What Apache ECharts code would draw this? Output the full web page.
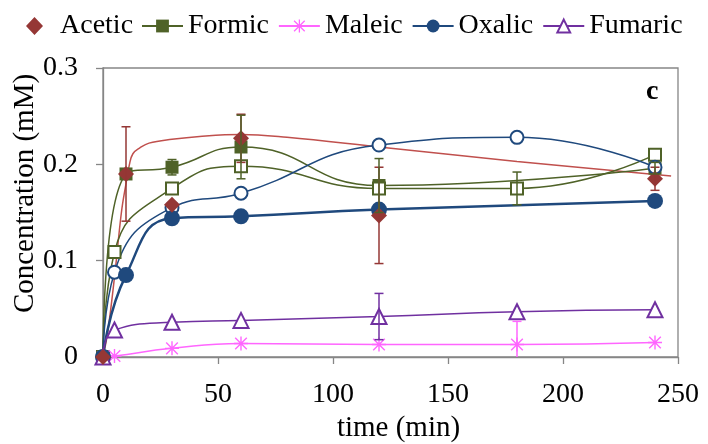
<!DOCTYPE html>
<html>
<head>
<meta charset="utf-8">
<script src="https://cdn.jsdelivr.net/npm/echarts@6/dist/echarts.min.js"></script>
<style>html,body{margin:0;padding:0;background:#fff}#c{width:708px;height:444px}</style>
</head>
<body>
<div id="c"></div>
<script>
// ---- data (time in min, concentration in mM) ----
const xTicks = [0, 50, 100, 150, 200, 250];
const yTicks = [0, 0.1, 0.2, 0.3];

const acetic = [[0,0],[10,0.19],[30,0.158],[60,0.227],[120,0.147],[240,0.185]];
const aceticErr = [[10,0.049],[60,0.025],[120,0.05],[240,0.012]];
const aceticFit = [[0,0],[2,0.025],[5,0.083],[8,0.15],[10,0.18],[11.5,0.2],[13,0.211],[16,0.217],[20,0.222],[30,0.226],[42,0.229],[60,0.231],[80,0.228],[120,0.218],[180,0.203],[247,0.188]];

const formic = [[0,0],[10,0.19],[30,0.197],[60,0.218],[120,0.178],[240,0.196]];
const formicErr = [[30,0.008],[60,0.033],[120,0.028],[240,0.006]];
const formic2 = [[0,0],[5,0.109],[30,0.175],[60,0.198],[120,0.175],[180,0.175],[240,0.21]];
const formic2Err = [[180,0.017]];

const maleic = [[0,0],[5,0.001],[30,0.009],[60,0.014],[120,0.013],[180,0.013],[240,0.015]];
const maleicErr = [[180,0.024]];

const oxalic = [[0,0],[10,0.085],[30,0.144],[60,0.146],[120,0.153],[240,0.162]];
const oxalic2 = [[0,0],[5,0.088],[30,0.155],[60,0.17],[120,0.22],[180,0.228],[240,0.197]];

const fumaric = [[0,0],[5,0.028],[30,0.036],[60,0.038],[120,0.042],[180,0.047],[240,0.049]];
const fumaricErr = [[120,0.024]];

// ---- styling ----
const FONT = "'Liberation Serif','Times New Roman',serif";
const C_ACE = '#953735', C_FIT = '#C0504D', C_FOR = '#4F6228', C_MAL = '#FF66FF', C_OXA = '#1F497D', C_FUM = '#7030A0';
const AX = '#868686';
const ASTERISK = 'path://M0,9 H20 V11 H0 Z M9,0 H11 V20 H9 Z M1,2.4 L2.4,1 L19,17.6 L17.6,19 Z M17.6,1 L19,2.4 L2.4,19 L1,17.6 Z';
const LEG_DIAMOND = 'path://M0,0 L0.01,0 L0,0.01 Z M41,20 L40.99,20 L41,19.99 Z M20.5,1 L29,10 L20.5,19 L12,10 Z';

function errData(values, errs) {
  return errs.map(function (e) {
    const v = values.find(function (p) { return p[0] === e[0]; });
    return [e[0], v[1], e[1]];
  });
}
function errSeries(values, errs, color) {
  return {
    type: 'custom', silent: true, clip: true, z: 5,
    data: errData(values, errs),
    renderItem: function (params, api) {
      const x = api.value(0), v = api.value(1), e = api.value(2);
      const top = api.coord([x, v + e]), bot = api.coord([x, v - e]);
      const w = 4.5, st = { stroke: color, lineWidth: 1.5 };
      return { type: 'group', children: [
        { type: 'line', shape: { x1: top[0], y1: top[1], x2: bot[0], y2: bot[1] }, style: st },
        { type: 'line', shape: { x1: top[0] - w, y1: top[1], x2: top[0] + w, y2: top[1] }, style: st },
        { type: 'line', shape: { x1: bot[0] - w, y1: bot[1], x2: bot[0] + w, y2: bot[1] }, style: st }
      ]};
    }
  };
}

const legendText = { fontFamily: FONT, fontSize: 28, color: '#000' };
const chart = echarts.init(document.getElementById('c'), null, { renderer: 'canvas' });
chart.setOption({
  animation: false,
  backgroundColor: '#fff',
  title: { text: 'c', left: 646, top: 78, padding: 0,
    textStyle: { fontFamily: FONT, fontSize: 28, fontWeight: 'bold', color: '#000' } },
  legend: [
    { data: [{ name: 'Acetic', icon: LEG_DIAMOND }],
      left: 14, top: 12, itemWidth: 41, itemHeight: 24, padding: 0, textStyle: legendText },
    { data: ['Formic', 'Maleic', 'Oxalic', 'Fumaric'],
      left: 141, top: 12, itemWidth: 41, itemHeight: 16, itemGap: 9, padding: 0, textStyle: legendText }
  ],
  grid: { left: 103, right: 30, top: 68, bottom: 87, show: true, borderColor: AX, borderWidth: 1.3,
    backgroundColor: 'transparent', containLabel: false, outerBoundsMode: 'none' },
  xAxis: {
    type: 'value', min: xTicks[0], max: xTicks[xTicks.length - 1], interval: xTicks[1] - xTicks[0],
    name: 'time (min)', nameLocation: 'middle', nameGap: 57, nameMoveOverlap: false,
    nameTextStyle: { fontFamily: FONT, fontSize: 29, color: '#000', padding: [0, 0, 0, 16] },
    axisLine: { show: true, lineStyle: { color: AX, width: 1.3 } },
    axisTick: { show: true, inside: false, length: 7, lineStyle: { color: AX, width: 1.3 } },
    axisLabel: { fontFamily: FONT, fontSize: 28, color: '#000', margin: 24 },
    splitLine: { show: false }
  },
  yAxis: {
    type: 'value', min: yTicks[0], max: yTicks[yTicks.length - 1], interval: yTicks[1] - yTicks[0],
    name: 'Concentration (mM)', nameLocation: 'middle', nameGap: 63, nameMoveOverlap: false,
    nameTextStyle: { fontFamily: FONT, fontSize: 29, color: '#000', padding: [0, 0, 0, 38] },
    axisLine: { show: true, lineStyle: { color: AX, width: 1.3 } },
    axisTick: { show: true, inside: false, length: 7, lineStyle: { color: AX, width: 1.3 } },
    axisLabel: { fontFamily: FONT, fontSize: 28, color: '#000', margin: 25,
      formatter: function (v) { return String(Math.round(v * 10) / 10); } },
    splitLine: { show: false }
  },
  series: [
    { name: 'AceticFit', type: 'line', data: aceticFit, smooth: 0.4, showSymbol: false, symbol: 'none',
      lineStyle: { color: C_FIT, width: 1.5 }, itemStyle: { color: C_FIT }, z: 2 },
    { name: 'Formic', type: 'line', data: formic, smooth: 0.5, symbol: 'rect', symbolSize: 13,
      lineStyle: { color: C_FOR, width: 1.5 }, itemStyle: { color: C_FOR }, z: 3 },
    { name: 'Formic2', type: 'line', data: formic2, smooth: 0.5, symbol: 'emptyRect', symbolSize: 12,
      lineStyle: { color: C_FOR, width: 1.5 }, itemStyle: { color: C_FOR, borderWidth: 1.5 }, z: 3 },
    { name: 'Maleic', type: 'line', data: maleic, smooth: 0.5, symbol: ASTERISK, symbolSize: 14,
      lineStyle: { color: C_MAL, width: 1.5 }, itemStyle: { color: C_MAL }, z: 3 },
    { name: 'Oxalic2', type: 'line', data: oxalic2, smooth: 0.5, symbol: 'emptyCircle', symbolSize: 13,
      lineStyle: { color: C_OXA, width: 1.5 }, itemStyle: { color: C_OXA, borderWidth: 1.5 }, z: 3 },
    { name: 'Oxalic', type: 'line', data: oxalic, smooth: 0.5, symbol: 'circle', symbolSize: 16,
      lineStyle: { color: C_OXA, width: 2.5 }, itemStyle: { color: C_OXA }, z: 3 },
    { name: 'Fumaric', type: 'line', data: fumaric, smooth: 0.5, symbol: 'emptyTriangle', symbolSize: 15,
      lineStyle: { color: C_FUM, width: 1.5 }, itemStyle: { color: C_FUM, borderWidth: 1.5 }, z: 3 },
    { name: 'Acetic', type: 'scatter', data: acetic, symbol: 'diamond', symbolSize: 16,
      itemStyle: { color: C_ACE, opacity: 1 }, z: 4 },
    errSeries(acetic, aceticErr, C_ACE),
    errSeries(formic, formicErr, C_FOR),
    errSeries(formic2, formic2Err, C_FOR),
    errSeries(maleic, maleicErr, C_MAL),
    errSeries(fumaric, fumaricErr, C_FUM)
  ]
});
</script>
</body>
</html>
